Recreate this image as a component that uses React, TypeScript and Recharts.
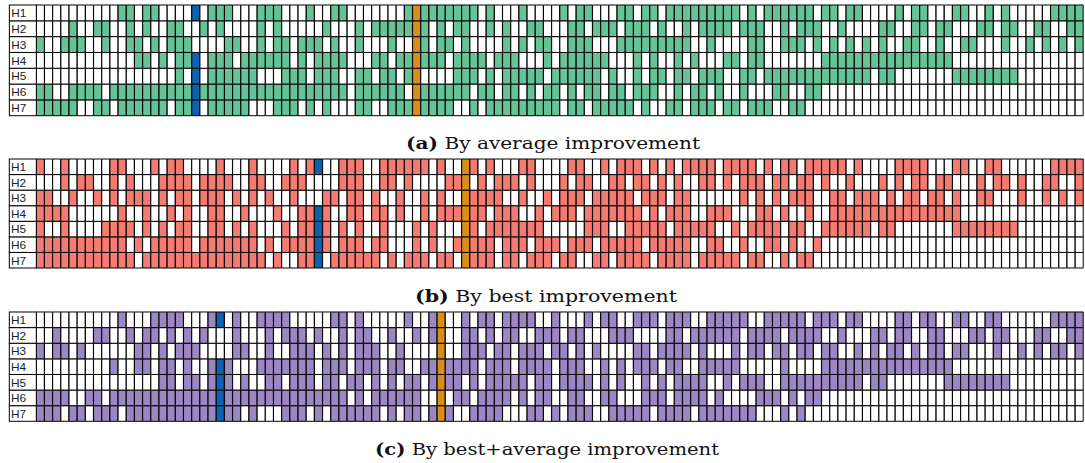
import React from "react";
import { BarChart, Bar, XAxis, YAxis, Cell } from "recharts";

// ---------- data ----------
const ROW_LABELS = ["H1", "H2", "H3", "H4", "H5", "H6", "H7"];
const N_COLS = 128;

// each string: one row (H1..H7), one char per configuration column, 1 = heuristic enabled
const PANEL_A_ROWS = [
  "0000000000 11 0 11 0000 1 0 111 000 111 000 1 00 11 00" + " 00000 1 1 1111111 0 1 000 1 0000 1 0 11 000 11 0 11 0 1111111" + " 11 0 1 0 111111 0 11 0 11 0000 1 0 11 000 11 00 1 0 1 00000 1111",
  "0000 1 00 11 00 1 0 1 00 11 00 1 0 1 0000 1 0 1 00000 1 000 1" + " 0 11111 1 1 0 1 0 11 00 1 0 1 00 11 000 11 0 111 0 111 0 1 00 1 0 111" + " 1 0 111 00 1 0 111 00 1 0000 11 00 11 0 11 000 11 0 11 00 11 00 11",
  "1 00 111 00 1 00 11 0 1 0 111 0000 11 00 1 0 11 0 111 0 1 00 1" + " 000 1 00 1 1 0 11 0 1 0000 1 0 1 0 11 00 111 000 111111111 00 1 0" + " 000 11 00 111 0 1 0 1 0 1 0 1 0 1 00 11 00 1 00 11 000 1 00 1 0 1 0 1 0 1",
  "000000000000 11 0 1 0 111 0 111 0 111111 0 1 0 1111 00" + " 0 11 0 11 1 111 0 1111 0 111 000 1 0 111111 000 1 0 1 00 1 0 1 000" + " 11 0 11 0000000 1111111111111111 0000000000000000",
  "00000000000000000 1 0 1 0 111111 000 111 0 111 00 1" + " 1 0 11 0 1 1 0000 111 0 1 0 11111 0 111111 0 1 00 1 0 11 0 11 0 111" + " 00 11 0 1111111111111 0 11 0000000 11111111 00000000",
  "11 00 1111 0 11111111111111111111111111111 0 1" + " 11111 0 1 111111 0 11 0 11 0 1 0 11 0 1 0 11 0 11 0 111 00 1 0 11 0 1" + " 00 1 000 11 00 11 00000000000000000000000000000000",
  "11111 00 11 0 111111 0 111 0 11111 000 111 0 1 0 1 000 1" + " 1 00 111 1 1111 00 1 0 111111111 0 11 0 11111 0 1 00 11 0 111 0" + " 11 0 111 00 11 0000000000000000000000000000000000",
];

const PANEL_B_ROWS = [
  "1 00 1 00000 11 000 1 0 11 0000 1 000 1 0000 1 0 11 00 111" + " 00 111111 0 1 00 1 1 0 1 000 11 0000 11 00 1 0 111 0 1 0 1 0 1111 0" + " 1111 0 1 0 11 0 11111 0 1 0000 1111 000 11 00 11 000000 1111",
  "000 1 0 11 00 1 0 1 000 1111 0 1111 00 11 00 111 0000 111" + " 00 11 0 1 0000 11 1 0 1 0 111 0 1 00 0 1 0 11 00 11 0 11 0 1 0 1 00 11 0 1" + " 0 111 0 11 0 11 0 1 00 1 000 1 0 1 0 11 0 11 000 1 0 11 0 1 00 11 00 11",
  "11 00 1 00 1 0 1 0 111 0 1 0 11 0 111 0 1 0 1 0 1 00 1 000 11 0 11" + " 0 1 00 1 00 1 0 1 00 1 1111 0 0 1 00 1 0 111 0 11111 0 111 0 11 000 0" + " 00 1 0 1 0 1 0 111 00 11 0 111 0 1 0 11 0 11 0 1 00 11 000 1 00 1 0 1 0 1 0 1",
  "1111 000000 1 00 1 00 1 0 1 00 11 00 1 000 1 00 1111 00 11" + " 0 11 0 1 00 1 0 111 1 11 0 111 00 1 0 111 0 1111111 0 1 0 111 0 0 1 1" + " 1 0 00 11 0 1 00 1 0 0 1111111111111111 0000000000000000",
  "1 00 1 0000 1111 0 1 0 1 0 11 00 11 0 1 0 1 000 1 0 1111 0 1 0 1" + " 00 1 000 1 0 1 000 1 1 0 1111111 00000 111 00 11111 0 11111 0" + " 0 1 0 1111 0 11 00 111111 0 11 0000000 11111111 00000000",
  "11111111111 0 1 0 11111 0 1111111 0 1 0 111111 0 111" + " 0 11 000 1 0 1 00 1 1 111 0 111 0 111 0 111 0 11111 0 11111 0011" + " 00 1 00 11 0 1 00 1 00000000000000000000000000000000",
  "111111111111 0 111111111111111 0 1 00 111 0 1111" + " 11 0 1 0 111 0 11 0 1 1 11 0 11 0 111 0 11 00 11 0 1111 0 1111 0 111" + " 11 0 11 00 1 0 11 000000000000000000000000000000000",
];

const PANEL_C_ROWS = [
  "0000000000 1 000 1111 000 1 1 0 1 00 1111 00000 11 0 1" + " 00000 1 00 1 1 00 1 0 11 0 1111 00 1 000 1 0 11 00 111 0 111 00 11" + " 111 00 11111 0 111 0 11 0000 11 0 11 00 11 00 11 000000 1111",
  "00 1 0000 11 00 1 0 11 0 1 0 1 0 1 000 1 000 1 0 111 0 1 00 1 0 1" + " 1 00 1 00 1 0 1 1 00 11 0 1 0 11 00 111 0 11 000 111 0000 11 0 11 11" + " 11 0 1111 0 1111 00 1 000 11 0 11 00 11 000 11 0 11 000 11 00 11",
  "1 0 11 0 1 000000 11 0 1 0 111 0000 11 00 1 00 111 0 1 0 1 0 1" + " 11 00 1 0000 1 00 111 0 11 0 111 0 11 0 1 0 1 0000 11 0 1111 0 1 00" + " 0 1 0 11 0 11 0 11 0 11 00 1 0 1 0 11 0 1 0 11 0 11 000 1 00 1 0 1 0 1 1 0 1",
  "000000000 1 00 11 0 11 0 1 00 111 000 1111111 0 111 0 1" + " 11 0 11 00 11 1 1111 0 111 0 1111 0 111 00 1 0 1 0 111 0 11 00 11 1" + " 11 00000 1 0000 1111111111111111 0000000000000000",
  "000000000000000 11 0 11 0 111 0 1 00 11 0 111 0 11 0 11" + " 0 1 0 1 0 11 0 1 1 11 0 1 0 11111 0 11 0 1111 0 1 0 1 00 1 0 1 0 1111 0" + " 0 1 0 111 0 0 1111111111 0 11 0000000 11111111 00000000",
  "1111 00 11 0 11111111111111111111111111111 0 1" + " 0 111111 00 1 0 11 0 1111 0 1 0 11 00 11 00 11 000 111 0 1111 0 1" + " 0000 111 0 1 0 11 00000000000000000000000000000000",
  "111 0 11 0 111 0 11111111111111 0 1 000 111 0 1 0 1111" + " 11 0 1 0 11 0 1 1 1 00 1111 000 11 0 1 0 111 00 11111 0 1111 0 1 11" + " 1111 000 1 0 1 0000000000000000000000000000000000",
];

// highlighted configurations (column index) per panel
const PANEL_A_HIGHLIGHT = { blue: 19, orange: 46 };
const PANEL_B_HIGHLIGHT = { blue: 34, orange: 52 };
const PANEL_C_HIGHLIGHT = { blue: 22, orange: 49 };

const CAPTIONS = [
  { tag: "(a)", text: "By average improvement" },
  { tag: "(b)", text: "By best improvement" },
  { tag: "(c)", text: "By best+average improvement" },
];

// ---------- styles ----------
const COLOR_A = "#66c297";
const COLOR_B = "#f47b71";
const COLOR_C = "#9b87c3";
const COLOR_BLUE = "#0b62b0";
const COLOR_ORANGE = "#d98e17";

const W = 1085;
const LABEL_LEFT = 9.3;
const LABEL_W = 27;
const RIGHT_MARGIN = 1.6;

type PanelCfg = {
  rows: string[];
  color: string;
  highlight: { blue: number; orange: number };
  top: number;
  plotH: number;
};

function buildData(rows: string[]) {
  const clean = rows.map((r) => r.replace(/\s+/g, "").padEnd(N_COLS, "0").slice(0, N_COLS));
  const data: any[] = [];
  for (let c = 0; c < N_COLS; c++) {
    const d: any = { col: c };
    clean.forEach((r, i) => {
      d["h" + (i + 1)] = 1;
      d["on" + (i + 1)] = r[c] === "1";
    });
    data.push(d);
  }
  return data;
}

function LabelTick(props: any) {
  const { y, payload, rowH } = props;
  const v = payload.value as number;
  const label = ROW_LABELS[6 - Math.floor(v)];
  return (
    <g>
      <rect x={LABEL_LEFT} y={y - rowH / 2} width={LABEL_W} height={rowH} fill="#fff" stroke="#000" strokeWidth={1} />
      <text x={LABEL_LEFT + 1.8} y={y + 4.3} fontSize={11.8} fontFamily="Liberation Sans, Arial, sans-serif" fill="#222">
        {label}
      </text>
    </g>
  );
}

function Panel({ cfg }: { cfg: PanelCfg }) {
  const data = buildData(cfg.rows);
  const rowH = cfg.plotH / 7;
  const stackOrder = [7, 6, 5, 4, 3, 2, 1];
  return (
    <div style={{ position: "absolute", left: 0, top: cfg.top - 1 }}>
      <BarChart
        width={W}
        height={cfg.plotH + 2}
        data={data}
        margin={{ top: 1, bottom: 1, left: LABEL_LEFT, right: RIGHT_MARGIN }}
        barCategoryGap={0}
        barGap={0}
      >
        <XAxis dataKey="col" type="category" hide />
        <YAxis
          type="number"
          domain={[0, 7]}
          ticks={[0.5, 1.5, 2.5, 3.5, 4.5, 5.5, 6.5]}
          width={LABEL_W}
          axisLine={false}
          tickLine={false}
          tick={(p: any) => <LabelTick {...p} rowH={rowH} />}
          interval={0}
        />
        {stackOrder.map((h) => (
          <Bar key={h} dataKey={"h" + h} stackId="s" isAnimationActive={false} stroke="#000" strokeWidth={1}>
            {data.map((d, i) => {
              const on = d["on" + h];
              let fill = "#ffffff";
              if (on) {
                if (i === cfg.highlight.blue) fill = COLOR_BLUE;
                else if (i === cfg.highlight.orange) fill = COLOR_ORANGE;
                else fill = cfg.color;
              }
              return <Cell key={i} fill={fill} />;
            })}
          </Bar>
        ))}
      </BarChart>
    </div>
  );
}

const PANELS: PanelCfg[] = [
  { rows: PANEL_A_ROWS, color: COLOR_A, highlight: PANEL_A_HIGHLIGHT, top: 5, plotH: 110.7 },
  { rows: PANEL_B_ROWS, color: COLOR_B, highlight: PANEL_B_HIGHLIGHT, top: 159.3, plotH: 109 },
  { rows: PANEL_C_ROWS, color: COLOR_C, highlight: PANEL_C_HIGHLIGHT, top: 311.7, plotH: 109.3 },
];

const CAPTION_Y = [149, 302, 455];
const CAPTION_X = [553, 546, 547];
const CAPTION_LEN = [294, 262, 344];

export default function App() {
  return (
    <div style={{ position: "absolute", left: 0, top: 0, width: W, height: 463, background: "#fff", overflow: "hidden" }}>
      {PANELS.map((p, i) => (
        <Panel key={i} cfg={p} />
      ))}
      <svg width={W} height={463} style={{ position: "absolute", left: 0, top: 0, pointerEvents: "none" }}>
        {CAPTIONS.map((c, i) => (
          <text
            key={i}
            x={CAPTION_X[i] - CAPTION_LEN[i] / 2}
            y={CAPTION_Y[i]}
            textLength={CAPTION_LEN[i]}
            lengthAdjust="spacingAndGlyphs"
            fontFamily="DejaVu Serif, serif"
            fontSize={17.5}
            fill="#111"
          >
            <tspan fontWeight="bold">{c.tag}</tspan>
            <tspan> {c.text}</tspan>
          </text>
        ))}
      </svg>
    </div>
  );
}
